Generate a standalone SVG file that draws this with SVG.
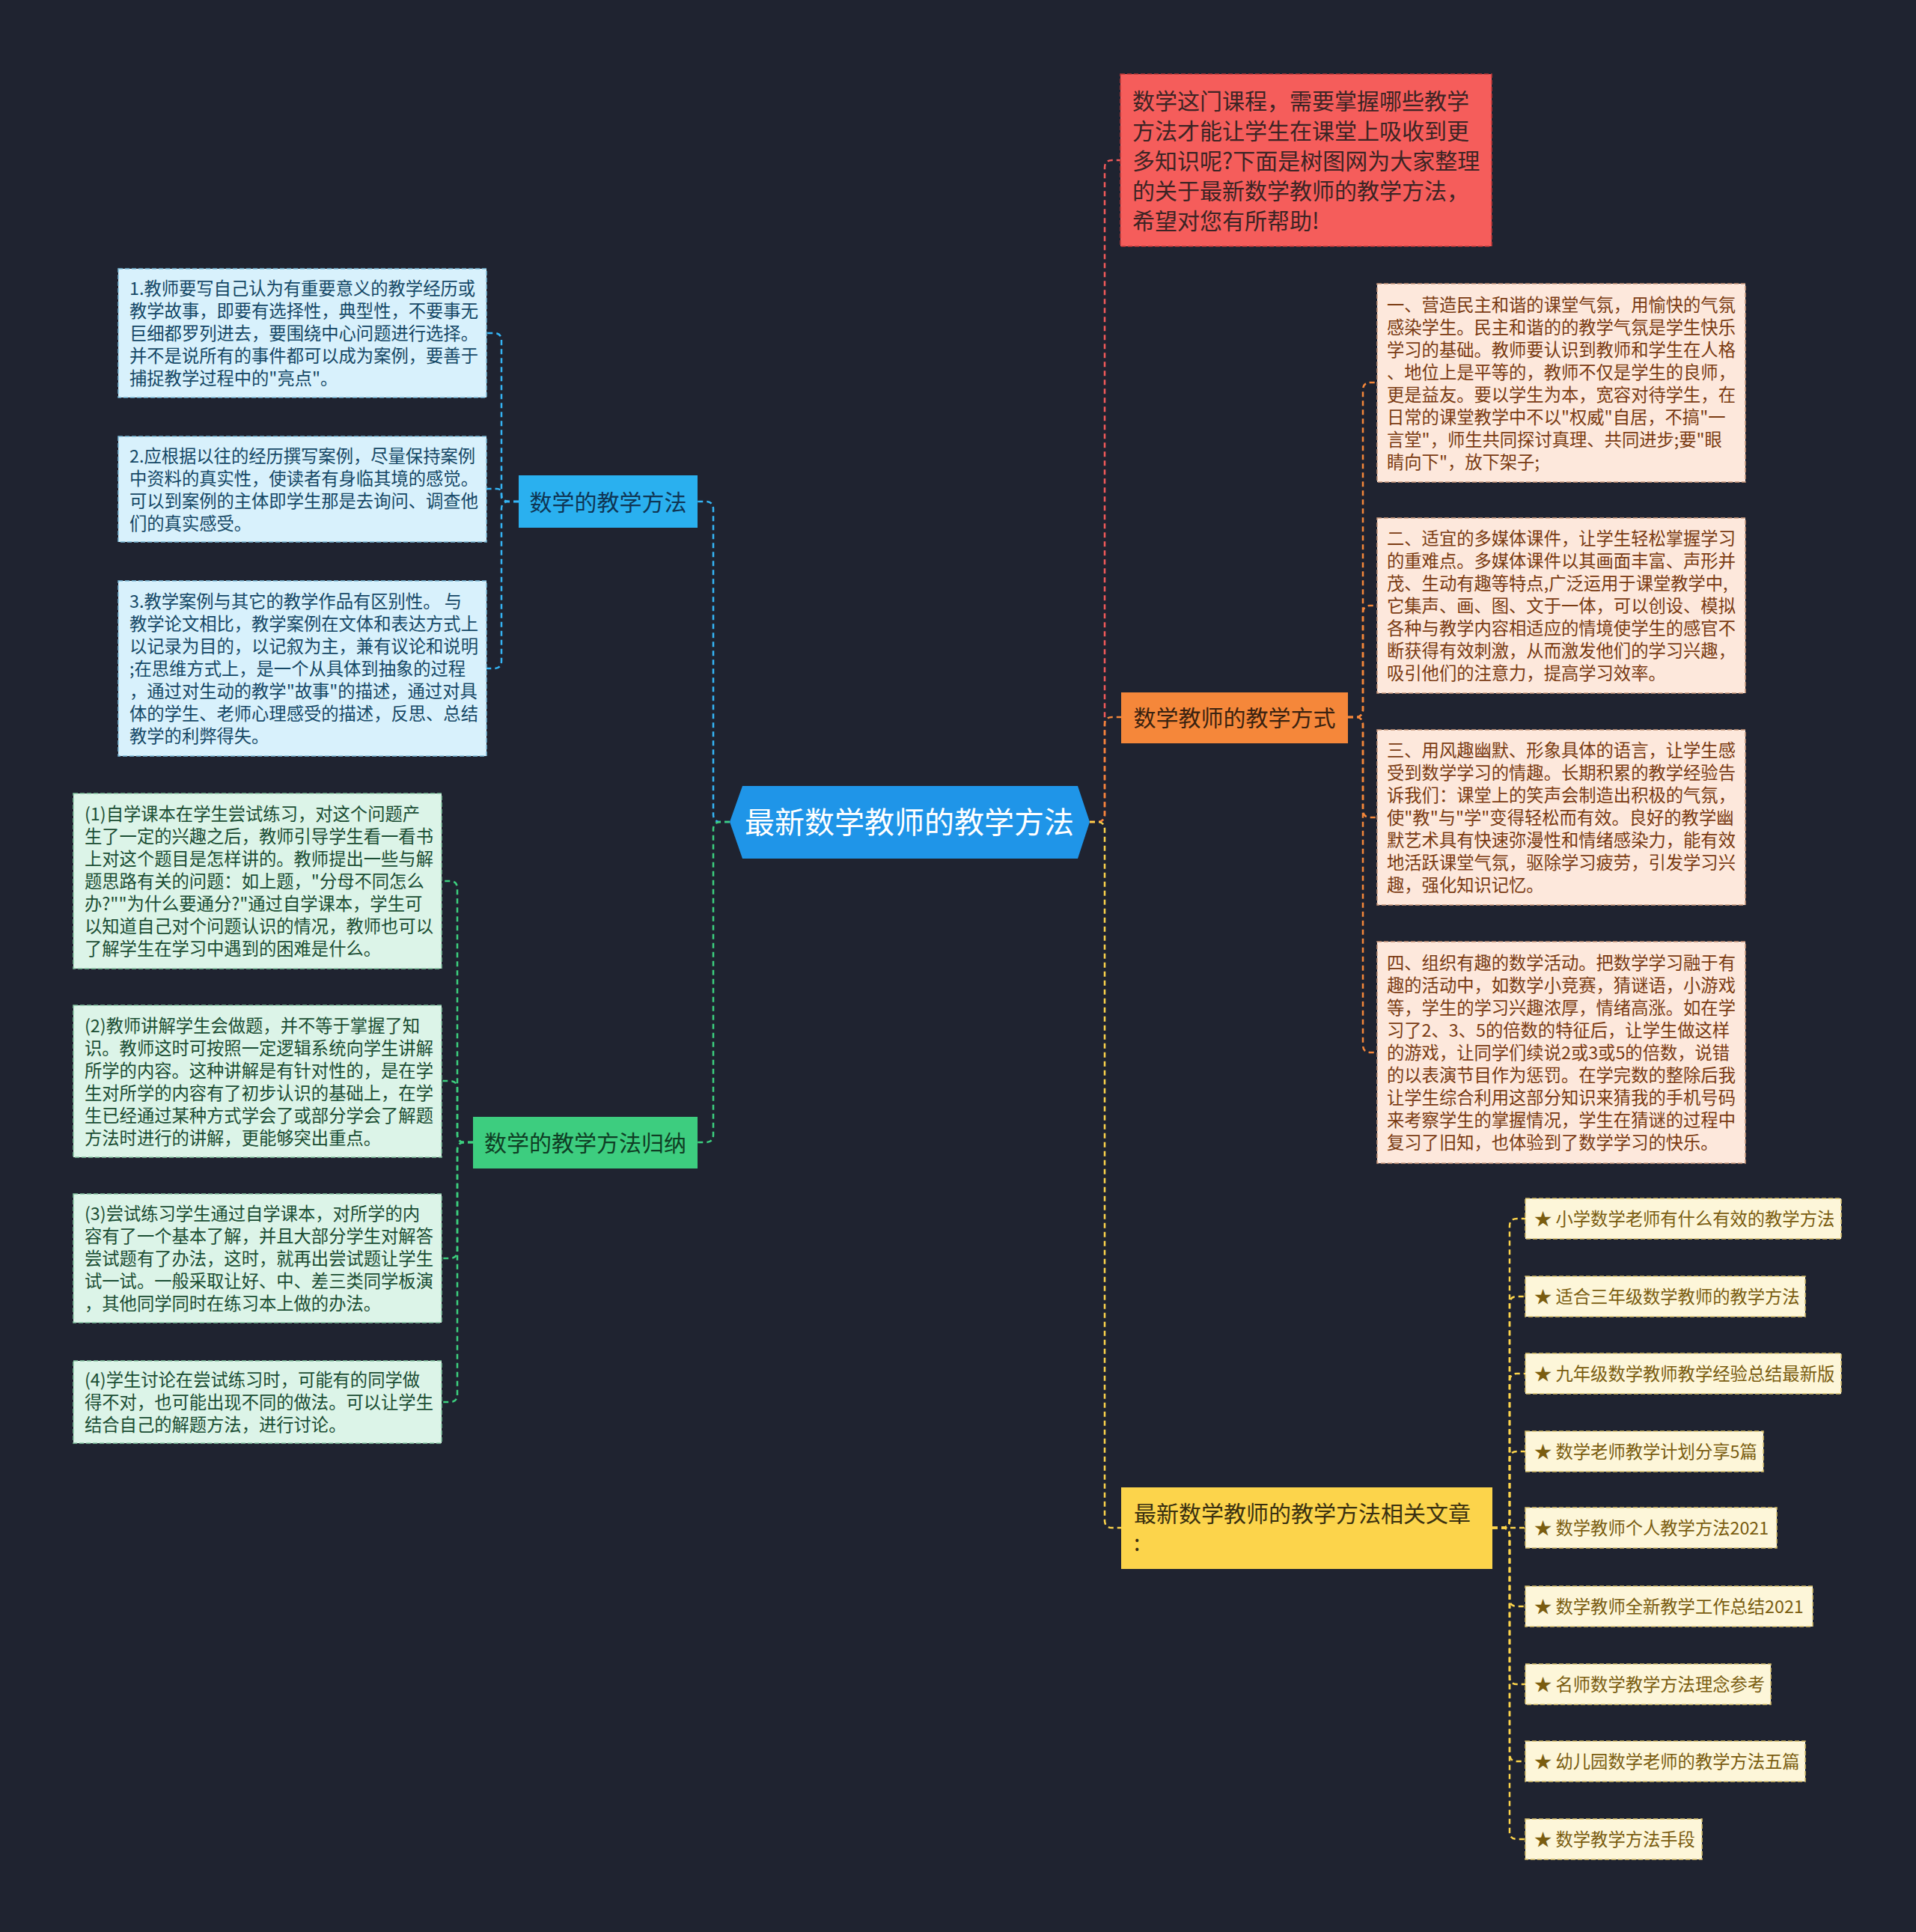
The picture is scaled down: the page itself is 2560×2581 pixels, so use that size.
<svg xmlns="http://www.w3.org/2000/svg" width="2560" height="2581" viewBox="0 0 2560 2581">
<style>
text{font-family:"Noto Sans CJK SC","Noto Sans",sans-serif}
.c{fill:none;stroke-width:2.5;stroke-dasharray:7 5}
.sm{font-size:23.3px}
.bx{stroke-width:1.5;stroke-dasharray:6 3}
.pe{fill:#fde8dc;stroke:#c9977a}
.pet{fill:#7a3b12}
.lb{fill:#d8f1fc;stroke:#7bbad8}
.lbt{fill:#154866}
.lg{fill:#dcf4e8;stroke:#83c4a0}
.lgt{fill:#1a4d33}
.ar{fill:#fdf6d9;stroke:#d8c06a}
.art{fill:#7a5d10}
.nd{font-size:30px}
</style>
<rect width="2560" height="2581" fill="#1f2330"/>

<g id="connectors">
  <path class="c" stroke="#f25a5a" d="M1456,1098 H1466 Q1476,1098 1476,1088 V224 Q1476,214 1486,214 H1497"/>
  <path class="c" stroke="#f5873a" d="M1456,1098 H1466 Q1476,1098 1476,1088 V968 Q1476,958 1486,958 H1498"/>
  <path class="c" stroke="#fcd44b" d="M1456,1098 H1466 Q1476,1098 1476,1108 V2031 Q1476,2041 1486,2041 H1498"/>
  <path class="c" stroke="#35b5f5" d="M975,1098 H963 Q953,1098 953,1088 V680 Q953,670 943,670 H932"/>
  <path class="c" stroke="#3ccf7e" d="M975,1098 H963 Q953,1098 953,1108 V1516 Q953,1526 943,1526 H932"/>
  <path class="c" stroke="#35b5f5" d="M693,670 H680 Q670,670 670,660 V455 Q670,445 660,445 H650"/>
  <path class="c" stroke="#35b5f5" d="M693,670 H680 Q670,670 670,664 V659 Q670,653 664,653 H650"/>
  <path class="c" stroke="#35b5f5" d="M693,670 H680 Q670,670 670,680 V883 Q670,893 660,893 H650"/>
  <path class="c" stroke="#3ccf7e" d="M632,1526 H621 Q611,1526 611,1516 V1187 Q611,1177 601,1177 H590"/>
  <path class="c" stroke="#3ccf7e" d="M632,1526 H621 Q611,1526 611,1516 V1454 Q611,1444 601,1444 H590"/>
  <path class="c" stroke="#3ccf7e" d="M632,1526 H621 Q611,1526 611,1536 V1671 Q611,1681 601,1681 H590"/>
  <path class="c" stroke="#3ccf7e" d="M632,1526 H621 Q611,1526 611,1536 V1863 Q611,1873 601,1873 H590"/>
  <path class="c" stroke="#f5873a" d="M1801,958 H1811 Q1821,958 1821,948 V521 Q1821,511 1831,511 H1840"/>
  <path class="c" stroke="#f5873a" d="M1801,958 H1811 Q1821,958 1821,948 V819 Q1821,809 1831,809 H1840"/>
  <path class="c" stroke="#f5873a" d="M1801,958 H1811 Q1821,958 1821,968 V1082 Q1821,1092 1831,1092 H1840"/>
  <path class="c" stroke="#f5873a" d="M1801,958 H1811 Q1821,958 1821,968 V1396 Q1821,1406 1831,1406 H1840"/>
  <path class="c" stroke="#fcd44b" d="M1994,2041 H2007 Q2017,2041 2017,2031 V1638 Q2017,1628 2027,1628 H2038"/>
  <path class="c" stroke="#fcd44b" d="M1994,2041 H2007 Q2017,2041 2017,2031 V1742 Q2017,1732 2027,1732 H2038"/>
  <path class="c" stroke="#fcd44b" d="M1994,2041 H2007 Q2017,2041 2017,2031 V1845 Q2017,1835 2027,1835 H2038"/>
  <path class="c" stroke="#fcd44b" d="M1994,2041 H2007 Q2017,2041 2017,2031 V1949 Q2017,1939 2027,1939 H2038"/>
  <path class="c" stroke="#fcd44b" d="M1994,2041 H2038"/>
  <path class="c" stroke="#fcd44b" d="M1994,2041 H2007 Q2017,2041 2017,2051 V2136 Q2017,2146 2027,2146 H2038"/>
  <path class="c" stroke="#fcd44b" d="M1994,2041 H2007 Q2017,2041 2017,2051 V2240 Q2017,2250 2027,2250 H2038"/>
  <path class="c" stroke="#fcd44b" d="M1994,2041 H2007 Q2017,2041 2017,2051 V2343 Q2017,2353 2027,2353 H2038"/>
  <path class="c" stroke="#fcd44b" d="M1994,2041 H2007 Q2017,2041 2017,2051 V2447 Q2017,2457 2027,2457 H2038"/>
</g>

<g id="root">
  <polygon points="975,1098 992,1050 1440,1050 1456,1098 1440,1147 992,1147" fill="#1f95e8"/>
  <text x="1215" y="1113" font-size="40" fill="#ffffff" text-anchor="middle">最新数学教师的教学方法</text>
</g>

<g id="intro">
  <rect x="1497" y="99" width="496" height="230" fill="#f55d5b" stroke="#c23a3a" class="bx"/>
  <text font-size="30" fill="#3c2424">
    <tspan x="1513" y="146">数学这门课程，需要掌握哪些教学</tspan>
    <tspan x="1513" y="186">方法才能让学生在课堂上吸收到更</tspan>
    <tspan x="1513" y="226">多知识呢?下面是树图网为大家整理</tspan>
    <tspan x="1513" y="266">的关于最新数学教师的教学方法，</tspan>
    <tspan x="1513" y="306">希望对您有所帮助!</tspan>
  </text>
</g>

<g id="node-fangshi">
  <rect x="1498" y="925" width="303" height="68" fill="#f5873a"/>
  <text class="nd" x="1649.5" y="970" fill="#3a2210" text-anchor="middle">数学教师的教学方式</text>
</g>

<g id="node-related">
  <rect x="1498" y="1987" width="496" height="109" fill="#fcd44b"/>
  <text class="nd" fill="#3a3010">
    <tspan x="1515" y="2033">最新数学教师的教学方法相关文章</tspan>
    <tspan x="1515" y="2072">:</tspan>
  </text>
</g>

<g id="node-fangfa">
  <rect x="693" y="635" width="239" height="70" fill="#2ab0ef"/>
  <text class="nd" x="812.5" y="682" fill="#0f3553" text-anchor="middle">数学的教学方法</text>
</g>

<g id="node-guina">
  <rect x="632" y="1492" width="300" height="69" fill="#3dcd7f"/>
  <text class="nd" x="782" y="1538" fill="#0f3d24" text-anchor="middle">数学的教学方法归纳</text>
</g>

<g id="fangfa-1">
  <rect class="bx lb" x="158" y="359" width="492" height="172"/>
  <text class="sm lbt">
    <tspan x="173" y="394">1.教师要写自己认为有重要意义的教学经历或</tspan>
    <tspan x="173" dy="30">教学故事，即要有选择性，典型性，不要事无</tspan>
    <tspan x="173" dy="30">巨细都罗列进去，要围绕中心问题进行选择。</tspan>
    <tspan x="173" dy="30">并不是说所有的事件都可以成为案例，要善于</tspan>
    <tspan x="173" dy="30">捕捉教学过程中的"亮点"。</tspan>
  </text>
</g>
<g id="fangfa-2">
  <rect class="bx lb" x="158" y="583" width="492" height="141"/>
  <text class="sm lbt">
    <tspan x="173" y="618">2.应根据以往的经历撰写案例，尽量保持案例</tspan>
    <tspan x="173" dy="30">中资料的真实性，使读者有身临其境的感觉。</tspan>
    <tspan x="173" dy="30">可以到案例的主体即学生那是去询问、调查他</tspan>
    <tspan x="173" dy="30">们的真实感受。</tspan>
  </text>
</g>
<g id="fangfa-3">
  <rect class="bx lb" x="158" y="776" width="492" height="234"/>
  <text class="sm lbt">
    <tspan x="173" y="812">3.教学案例与其它的教学作品有区别性。 与</tspan>
    <tspan x="173" dy="30">教学论文相比，教学案例在文体和表达方式上</tspan>
    <tspan x="173" dy="30">以记录为目的，以记叙为主，兼有议论和说明</tspan>
    <tspan x="173" dy="30">;在思维方式上，是一个从具体到抽象的过程</tspan>
    <tspan x="173" dy="30">，通过对生动的教学"故事"的描述，通过对具</tspan>
    <tspan x="173" dy="30">体的学生、老师心理感受的描述，反思、总结</tspan>
    <tspan x="173" dy="30">教学的利弊得失。</tspan>
  </text>
</g>

<g id="guina-1">
  <rect class="bx lg" x="98" y="1060" width="492" height="234"/>
  <text class="sm lgt">
    <tspan x="113" y="1096">(1)自学课本在学生尝试练习，对这个问题产</tspan>
    <tspan x="113" dy="30">生了一定的兴趣之后，教师引导学生看一看书</tspan>
    <tspan x="113" dy="30">上对这个题目是怎样讲的。教师提出一些与解</tspan>
    <tspan x="113" dy="30">题思路有关的问题：如上题，"分母不同怎么</tspan>
    <tspan x="113" dy="30">办?""为什么要通分?"通过自学课本，学生可</tspan>
    <tspan x="113" dy="30">以知道自己对个问题认识的情况，教师也可以</tspan>
    <tspan x="113" dy="30">了解学生在学习中遇到的困难是什么。</tspan>
  </text>
</g>
<g id="guina-2">
  <rect class="bx lg" x="98" y="1343" width="492" height="203"/>
  <text class="sm lgt">
    <tspan x="113" y="1378.5">(2)教师讲解学生会做题，并不等于掌握了知</tspan>
    <tspan x="113" dy="30">识。教师这时可按照一定逻辑系统向学生讲解</tspan>
    <tspan x="113" dy="30">所学的内容。这种讲解是有针对性的，是在学</tspan>
    <tspan x="113" dy="30">生对所学的内容有了初步认识的基础上，在学</tspan>
    <tspan x="113" dy="30">生已经通过某种方式学会了或部分学会了解题</tspan>
    <tspan x="113" dy="30">方法时进行的讲解，更能够突出重点。</tspan>
  </text>
</g>
<g id="guina-3">
  <rect class="bx lg" x="98" y="1595" width="492" height="172"/>
  <text class="sm lgt">
    <tspan x="113" y="1630">(3)尝试练习学生通过自学课本，对所学的内</tspan>
    <tspan x="113" dy="30">容有了一个基本了解，并且大部分学生对解答</tspan>
    <tspan x="113" dy="30">尝试题有了办法，这时，就再出尝试题让学生</tspan>
    <tspan x="113" dy="30">试一试。一般采取让好、中、差三类同学板演</tspan>
    <tspan x="113" dy="30">，其他同学同时在练习本上做的办法。</tspan>
  </text>
</g>
<g id="guina-4">
  <rect class="bx lg" x="98" y="1818" width="492" height="110"/>
  <text class="sm lgt">
    <tspan x="113" y="1852">(4)学生讨论在尝试练习时，可能有的同学做</tspan>
    <tspan x="113" dy="30">得不对，也可能出现不同的做法。可以让学生</tspan>
    <tspan x="113" dy="30">结合自己的解题方法，进行讨论。</tspan>
  </text>
</g>

<g id="fangshi-1">
  <rect class="bx pe" x="1840" y="379" width="492" height="265"/>
  <text class="sm pet">
    <tspan x="1853" y="416">一、营造民主和谐的课堂气氛，用愉快的气氛</tspan>
    <tspan x="1853" dy="30">感染学生。民主和谐的的教学气氛是学生快乐</tspan>
    <tspan x="1853" dy="30">学习的基础。教师要认识到教师和学生在人格</tspan>
    <tspan x="1853" dy="30">、地位上是平等的，教师不仅是学生的良师，</tspan>
    <tspan x="1853" dy="30">更是益友。要以学生为本，宽容对待学生，在</tspan>
    <tspan x="1853" dy="30">日常的课堂教学中不以"权威"自居，不搞"一</tspan>
    <tspan x="1853" dy="30">言堂"，师生共同探讨真理、共同进步;要"眼</tspan>
    <tspan x="1853" dy="30">睛向下"，放下架子;</tspan>
  </text>
</g>
<g id="fangshi-2">
  <rect class="bx pe" x="1840" y="692" width="492" height="234"/>
  <text class="sm pet">
    <tspan x="1853" y="728">二、适宜的多媒体课件，让学生轻松掌握学习</tspan>
    <tspan x="1853" dy="30">的重难点。多媒体课件以其画面丰富、声形并</tspan>
    <tspan x="1853" dy="30">茂、生动有趣等特点,广泛运用于课堂教学中,</tspan>
    <tspan x="1853" dy="30">它集声、画、图、文于一体，可以创设、模拟</tspan>
    <tspan x="1853" dy="30">各种与教学内容相适应的情境使学生的感官不</tspan>
    <tspan x="1853" dy="30">断获得有效刺激，从而激发他们的学习兴趣，</tspan>
    <tspan x="1853" dy="30">吸引他们的注意力，提高学习效率。</tspan>
  </text>
</g>
<g id="fangshi-3">
  <rect class="bx pe" x="1840" y="975" width="492" height="234"/>
  <text class="sm pet">
    <tspan x="1853" y="1011">三、用风趣幽默、形象具体的语言，让学生感</tspan>
    <tspan x="1853" dy="30">受到数学学习的情趣。长期积累的教学经验告</tspan>
    <tspan x="1853" dy="30">诉我们：课堂上的笑声会制造出积极的气氛，</tspan>
    <tspan x="1853" dy="30">使"教"与"学"变得轻松而有效。良好的教学幽</tspan>
    <tspan x="1853" dy="30">默艺术具有快速弥漫性和情绪感染力，能有效</tspan>
    <tspan x="1853" dy="30">地活跃课堂气氛，驱除学习疲劳，引发学习兴</tspan>
    <tspan x="1853" dy="30">趣，强化知识记忆。</tspan>
  </text>
</g>
<g id="fangshi-4">
  <rect class="bx pe" x="1840" y="1258" width="492" height="296"/>
  <text class="sm pet">
    <tspan x="1853" y="1295">四、组织有趣的数学活动。把数学学习融于有</tspan>
    <tspan x="1853" dy="30">趣的活动中，如数学小竞赛，猜谜语，小游戏</tspan>
    <tspan x="1853" dy="30">等，学生的学习兴趣浓厚，情绪高涨。如在学</tspan>
    <tspan x="1853" dy="30">习了2、3、5的倍数的特征后，让学生做这样</tspan>
    <tspan x="1853" dy="30">的游戏，让同学们续说2或3或5的倍数，说错</tspan>
    <tspan x="1853" dy="30">的以表演节目作为惩罚。在学完数的整除后我</tspan>
    <tspan x="1853" dy="30">让学生综合利用这部分知识来猜我的手机号码</tspan>
    <tspan x="1853" dy="30">来考察学生的掌握情况，学生在猜谜的过程中</tspan>
    <tspan x="1853" dy="30">复习了旧知，也体验到了数学学习的快乐。</tspan>
  </text>
</g>

<g id="art-1"><rect class="bx ar" x="2038" y="1601" width="422" height="54"/><text class="sm art" x="2050" y="1637">★ 小学数学老师有什么有效的教学方法</text></g>
<g id="art-2"><rect class="bx ar" x="2038" y="1705" width="374" height="54"/><text class="sm art" x="2050" y="1741">★ 适合三年级数学教师的教学方法</text></g>
<g id="art-3"><rect class="bx ar" x="2038" y="1808" width="422" height="54"/><text class="sm art" x="2050" y="1844">★ 九年级数学教师教学经验总结最新版</text></g>
<g id="art-4"><rect class="bx ar" x="2038" y="1912" width="318" height="54"/><text class="sm art" x="2050" y="1948">★ 数学老师教学计划分享5篇</text></g>
<g id="art-5"><rect class="bx ar" x="2038" y="2014" width="336" height="54"/><text class="sm art" x="2050" y="2050">★ 数学教师个人教学方法2021</text></g>
<g id="art-6"><rect class="bx ar" x="2038" y="2119" width="384" height="54"/><text class="sm art" x="2050" y="2155">★ 数学教师全新教学工作总结2021</text></g>
<g id="art-7"><rect class="bx ar" x="2038" y="2223" width="328" height="54"/><text class="sm art" x="2050" y="2259">★ 名师数学教学方法理念参考</text></g>
<g id="art-8"><rect class="bx ar" x="2038" y="2326" width="374" height="54"/><text class="sm art" x="2050" y="2362">★ 幼儿园数学老师的教学方法五篇</text></g>
<g id="art-9"><rect class="bx ar" x="2038" y="2430" width="236" height="54"/><text class="sm art" x="2050" y="2466">★ 数学教学方法手段</text></g>
</svg>
